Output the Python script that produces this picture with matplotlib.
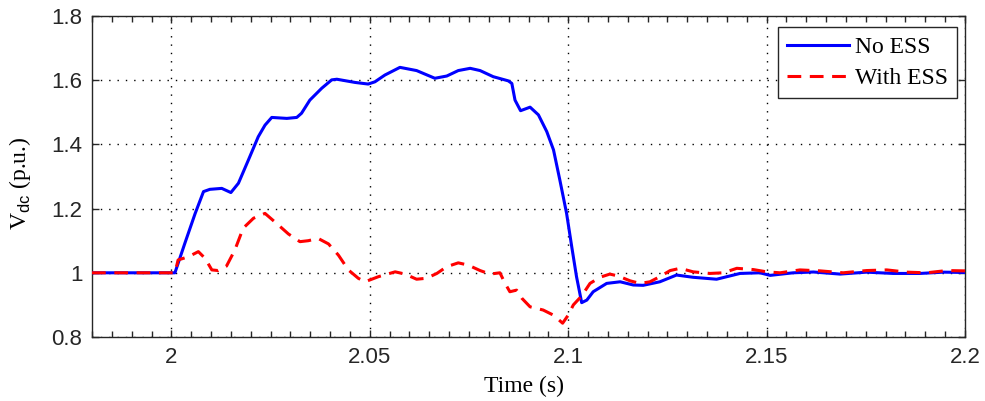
import numpy as np
import matplotlib
matplotlib.use('Agg')
import matplotlib.pyplot as plt
from matplotlib.ticker import MultipleLocator

# ── data ─────────────────────────────────────────────────────────────────────
t_no_ess = [1.98, 2.0009, 2.0034, 2.0060, 2.0081, 2.0097, 2.0127, 2.0150,
            2.0169, 2.0194, 2.0219, 2.0236, 2.0253, 2.0291, 2.0316, 2.0328,
            2.0349, 2.0379, 2.0404, 2.0417, 2.0463, 2.0496, 2.0513, 2.0538,
            2.0576, 2.0618, 2.0664, 2.0694, 2.0723, 2.0753, 2.0778, 2.0811,
            2.0849, 2.0858, 2.0866, 2.0880, 2.0904, 2.0925, 2.0946, 2.0963,
            2.0979, 2.0996, 2.1009, 2.1021, 2.1034, 2.1047, 2.1063, 2.1097,
            2.1131, 2.1164, 2.1189, 2.1231, 2.1273, 2.1315, 2.1374, 2.1433,
            2.1483, 2.1509, 2.1567, 2.1618, 2.1685, 2.1752, 2.1819, 2.1887,
            2.1946, 2.2]
v_no_ess = [1.0, 1.0, 1.092, 1.185, 1.253, 1.260, 1.263, 1.250,
            1.279, 1.351, 1.424, 1.460, 1.484, 1.481, 1.484, 1.497,
            1.538, 1.575, 1.601, 1.603, 1.593, 1.588, 1.595, 1.616,
            1.640, 1.630, 1.606, 1.613, 1.630, 1.637, 1.630, 1.611,
            1.598, 1.590, 1.538, 1.505, 1.516, 1.492, 1.440, 1.383,
            1.289, 1.185, 1.081, 0.988, 0.907, 0.915, 0.941, 0.967,
            0.972, 0.962, 0.961, 0.972, 0.993, 0.986, 0.980, 0.998,
            1.0, 0.992, 1.0, 1.0025, 0.996, 1.002, 0.998, 0.998,
            1.002, 1.001]

t_with_ess = [1.98, 2.0009, 2.0017, 2.0043, 2.0068, 2.0085, 2.0102, 2.0118,
              2.0139, 2.0160, 2.0181, 2.0207, 2.0236, 2.0265, 2.0295, 2.0324,
              2.0345, 2.0370, 2.0396, 2.0421, 2.0446, 2.0471, 2.0488, 2.0522,
              2.0564, 2.0589, 2.0618, 2.0643, 2.0669, 2.0694, 2.0723, 2.0748,
              2.0778, 2.0803, 2.0828, 2.0841, 2.0853, 2.0870, 2.0883, 2.0904,
              2.0937, 2.0963, 2.0986, 2.1000, 2.1013, 2.1034, 2.1055, 2.1080,
              2.1105, 2.1126, 2.1156, 2.1181, 2.1206, 2.1231, 2.1257, 2.1282,
              2.1315, 2.1357, 2.1391, 2.1425, 2.1467, 2.1500, 2.1534, 2.1584,
              2.1635, 2.1693, 2.1752, 2.1803, 2.1853, 2.1903, 2.1954, 2.2]
v_with_ess = [1.0, 1.0, 1.040, 1.050, 1.066, 1.045, 1.009, 1.007,
              1.021, 1.071, 1.139, 1.170, 1.185, 1.154, 1.121, 1.097,
              1.100, 1.107, 1.090, 1.055, 1.009, 0.983, 0.972, 0.988,
              1.003, 0.996, 0.980, 0.983, 0.998, 1.019, 1.031, 1.024,
              1.007, 0.996, 1.0, 0.967, 0.941, 0.946, 0.921, 0.894,
              0.884, 0.868, 0.843, 0.868, 0.900, 0.928, 0.967, 0.986,
              0.996, 0.990, 0.975, 0.967, 0.972, 0.988, 1.007, 1.014,
              1.003, 0.998, 1.0, 1.014, 1.010, 1.003, 1.0, 1.009,
              1.006, 1.0, 1.007, 1.009, 1.002, 1.0, 1.007, 1.006]

x_ticks = [2.0, 2.05, 2.1, 2.15, 2.2]
x_tick_labels = ['2', '2.05', '2.1', '2.15', '2.2']
y_ticks = [0.8, 1.0, 1.2, 1.4, 1.6, 1.8]
y_tick_labels = ['0.8', '1', '1.2', '1.4', '1.6', '1.8']

plt.rcParams['font.family'] = ['Liberation Serif', 'DejaVu Serif']
plt.rcParams['mathtext.fontset'] = 'custom'
plt.rcParams['mathtext.rm'] = 'Liberation Serif'
plt.rcParams['mathtext.sf'] = 'Liberation Sans'

fig = plt.figure(figsize=(9.85, 4.01), dpi=100)
ax = fig.add_axes([92 / 985, 64 / 401, 873 / 985, 321 / 401])

ax.plot(t_no_ess, v_no_ess, color='#0000ff', lw=2.2, label='No ESS', zorder=3)
ax.plot(t_with_ess, v_with_ess, color='#ff0000', lw=2.2, ls=(0, (4.5, 2.8)),
        label='With ESS', zorder=4)

ax.set_xlim(1.98, 2.2)
ax.set_ylim(0.8, 1.8)
ax.set_xticks(x_ticks)
ax.set_xticklabels(x_tick_labels)
ax.set_yticks(y_ticks)
ax.set_yticklabels(y_tick_labels)
ax.xaxis.set_minor_locator(MultipleLocator(0.005))
ax.tick_params(which='both', direction='in', top=True, right=True,
               colors='#262626', width=1.0)
ax.tick_params(which='major', length=5, pad=7)
ax.tick_params(which='minor', length=4)
for lbl in ax.get_xticklabels() + ax.get_yticklabels():
    lbl.set_family('Liberation Sans')
    lbl.set_fontsize(16)
ax.grid(True, which='major', color='black', ls=(0, (1, 5)), lw=1.0)
for s in ax.spines.values():
    s.set_color('#262626')
    s.set_linewidth(1.0)

ax.set_xlabel('Time (s)', fontsize=17)
ax.xaxis.set_label_coords(0.495, -0.122)
ax.set_ylabel(r'V$_{\mathsf{dc}}$ (p.u.)', fontsize=17)
ax.yaxis.set_label_coords(-0.068, 0.48)

leg = ax.legend(loc='upper right', bbox_to_anchor=(0.9908, 0.9657),
                borderaxespad=0, fontsize=17, handlelength=2.6,
                fancybox=False, framealpha=1, edgecolor='#262626',
                borderpad=0.4, labelspacing=0.4, handletextpad=0.25)
leg.get_frame().set_linewidth(1.0)

fig.savefig('out.png', dpi=100)
